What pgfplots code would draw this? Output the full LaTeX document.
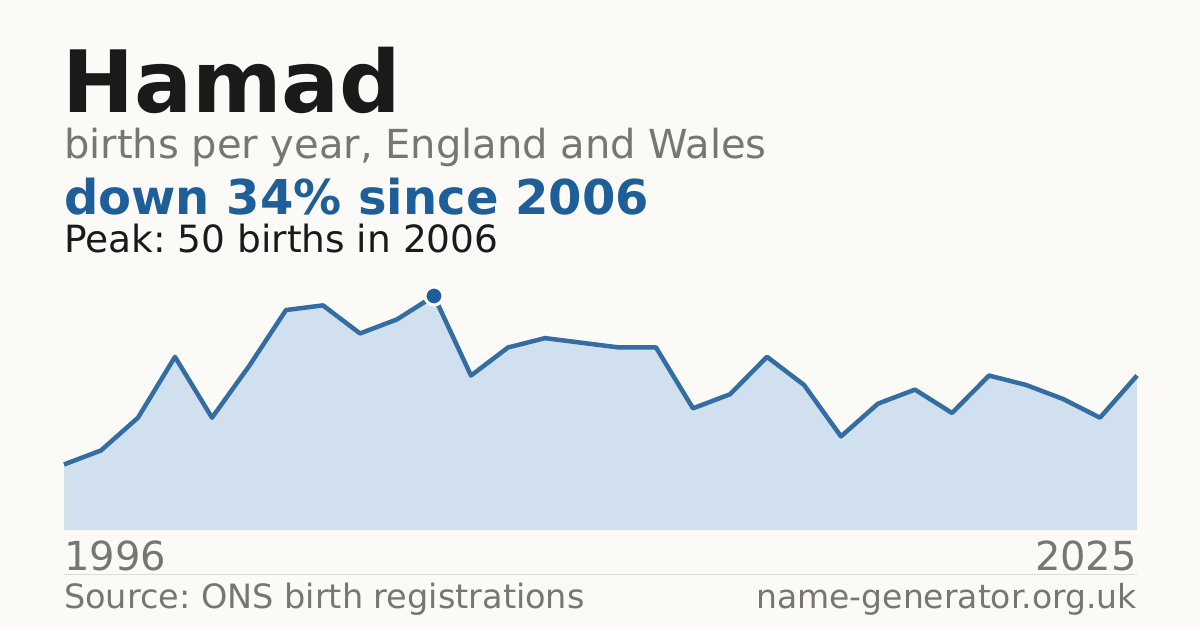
\documentclass[border=0pt]{standalone}
\usepackage{fontspec}
\setmainfont{DejaVu Sans}
\usepackage{pgfplots}
\usepackage{pgfplotstable}
\pgfplotsset{compat=1.18}
\frenchspacing

\definecolor{bg}{HTML}{FBFAF6}
\definecolor{ink}{HTML}{1A1A1A}
\definecolor{muted}{HTML}{79756F}
\definecolor{accent}{HTML}{1F5F99}
\definecolor{linec}{HTML}{336DA1}
\definecolor{areafill}{HTML}{D0E0EF}
\definecolor{rule}{HTML}{DEDCD6}

% year offset from 1996, births
\pgfplotstableread{
x  n
0  14
1  17
2  24
3  37
4  24
5  35
6  47
7  48
8  42
9  45
10 50
11 33
12 39
13 41
14 40
15 39
16 39
17 26
18 29
19 37
20 31
21 20
22 27
23 30
24 25
25 33
26 31
27 28
28 24
29 33
}\births

\newcommand{\fs}[1]{\fontsize{#1pt}{#1pt}\selectfont}

\begin{document}
\begin{tikzpicture}
\fill[bg] (0,0) rectangle (1200pt,630pt);

\node[anchor=base west, inner sep=0, text=ink] at (62pt,517pt) {\fs{86}\bfseries Hamad};
\node[anchor=base west, inner sep=0, text=muted] at (64pt,471pt) {\fs{40}births per year, England and Wales};
\node[anchor=base west, inner sep=0, text=accent] at (64pt,415pt) {\fs{48}\bfseries down 34\% since 2006};
\node[anchor=base west, inner sep=0, text=ink] at (64pt,377pt) {\fs{37.5}Peak: 50 births in 2006};

\begin{axis}[
  at={(64pt,100pt)}, anchor=origin,
  scale only axis, width=1073pt, height=234pt,
  xmin=0, xmax=29, ymin=0, ymax=50,
  hide axis, clip=false,
]
\addplot[fill=areafill, draw=none] table[x=x, y=n] {\births} \closedcycle;
\addplot[linec, line width=4.5pt, line join=round] table[x=x, y=n] {\births};
\addplot[only marks, mark=*, mark size=9pt, mark options={fill=accent, draw=white, line width=3pt}] coordinates {(10,50)};
\end{axis}

\node[anchor=base west, inner sep=0, text=muted] at (64pt,60pt) {\fs{40}1996};
\node[anchor=base east, inner sep=0, text=muted] at (1137pt,60pt) {\fs{40}2025};
\draw[rule, line width=1pt] (64pt,56pt) -- (1137pt,56pt);
\node[anchor=base west, inner sep=0, text=muted] at (64pt,22pt) {\fs{33.5}Source: ONS birth registrations};
\node[anchor=base east, inner sep=0, text=muted] at (1137pt,22pt) {\fs{33}name-generator.org.uk};
\end{tikzpicture}
\end{document}
